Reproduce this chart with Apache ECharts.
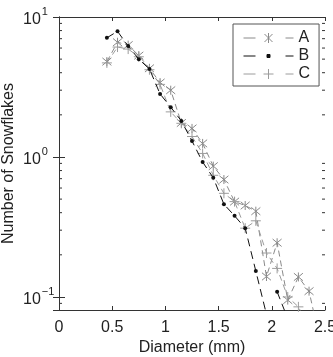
<!DOCTYPE html>
<html>
<head>
<meta charset="UTF-8">
<title>snowflakes</title>
<style>
  html, body { margin: 0; padding: 0; background: #fff; }
  #chart { width: 333px; height: 357px; }
</style>
<script src="https://cdn.jsdelivr.net/npm/echarts@6/dist/echarts.min.js"></script>
</head>
<body>
<div id="chart"></div>
<script>
// diameters (mm), one bin every 0.1 mm
var diam = [0.45, 0.55, 0.65, 0.75, 0.85, 0.95, 1.05, 1.15, 1.25, 1.35, 1.45,
            1.55, 1.65, 1.75, 1.85, 1.95, 2.05, 2.15, 2.25, 2.35, 2.45];
// counts (null = no point)
var valsA = [4.8, 6.6, 6.3, 5.3, 4.3, 3.4, 3.0, 1.75, 1.6, 1.25, 0.86,
             0.69, 0.48, 0.45, 0.41, 0.14, 0.244, 0.095, 0.139, 0.11, 0.05];
var valsB = [7.1, 7.9, 6.2, 5.0, 4.25, 2.82, 2.27, 1.81, 1.30, 0.92, 0.71,
             0.46, 0.38, 0.31, 0.153, 0.075, null, null, null, null, null];
var valsB2 = [null, null, null, null, null, null, null, null, null, null, null,
              null, null, null, null, null, 0.109, 0.07, null, null, null];
var valsC = [4.7, 6.1, 5.9, 5.2, 4.2, 3.3, 2.1, 1.74, 1.4, 1.06, 0.74,
             0.55, 0.48, 0.31, 0.35, 0.206, 0.16, 0.1, 0.085, 0.06, null];
var seriesNames = ['A', 'B', 'C'];
var xTicks = [0, 0.5, 1, 1.5, 2, 2.5];
var yMin = 0.0807, yMax = 10;
// minor log ticks 2..9 per decade
var minorTicks = [0.09, 0.2, 0.3, 0.4, 0.5, 0.6, 0.7, 0.8, 0.9, 2, 3, 4, 5, 6, 7, 8, 9];

function clean(vals) {
  return diam.map(function (d, i) { return [d, vals[i]]; })
    .filter(function (p) { return p[1] != null; });
}
// B has a gap: both runs with a null between them
var dataB = clean(valsB).concat([[2.0, null]]).concat(clean(valsB2));

var FONT = 'Liberation Sans';
var GRAY_A = '#8a8a8a', GRAY_C = '#9c9c9c', DARK = '#111';
var asterisk = 'path://M0,0L10,10M10,0L0,10M5,-1L5,11';
var plus = 'path://M5,0L5,10M0,5L10,5';
// legend samples: dash, marker, dash (box 50x14)
var legBox = 'M0,0M50,14M0,7L12,7M42,7L50,7';
var legIcons = {
  A: 'path://' + legBox + 'M21,3L29,11M29,3L21,11M25,2L25,12',
  B: 'path://' + legBox + 'M23.5,5.5L26.5,5.5L26.5,8.5L23.5,8.5Z',
  C: 'path://' + legBox + 'M25,2L25,12M20,7L30,7'
};
var legColors = { A: GRAY_A, B: DARK, C: GRAY_C };

var myChart = echarts.init(document.getElementById('chart'));

var axisLineStyle = { color: '#333', width: 1 };

var option = {
  animation: false,
  backgroundColor: '#fff',
  textStyle: { fontFamily: FONT },
  grid: { left: 59, right: 8, top: 17, bottom: 47, outerBoundsMode: 'none', containLabel: false },
  legend: {
    data: seriesNames.map(function (n) {
      return {
        name: n,
        icon: legIcons[n],
        itemStyle: {
          color: n === 'B' ? DARK : 'rgba(0,0,0,0)',
          borderColor: legColors[n], borderWidth: 1
        }
      };
    }),
    orient: 'vertical',
    left: 233,
    top: 24,
    padding: [6, 9, 4, 10],
    itemWidth: 50,
    itemHeight: 14,
    itemGap: 2,
    borderColor: '#555',
    borderWidth: 1,
    backgroundColor: '#fff',
    textStyle: { fontFamily: FONT, fontSize: 16, color: '#222' }
  },
  xAxis: [{
    type: 'value',
    min: 0, max: 2.5, interval: 0.5,
    name: 'Diameter (mm)',
    nameLocation: 'middle',
    nameGap: 30,
    nameMoveOverlap: false,
    nameTextStyle: { fontFamily: FONT, fontSize: 16, color: '#222' },
    axisLine: { show: true, lineStyle: axisLineStyle },
    axisTick: { show: true, inside: true, length: 4, lineStyle: axisLineStyle },
    axisLabel: {
      fontFamily: FONT, fontSize: 16, color: '#222', margin: 10,
      formatter: function (v) { return xTicks.indexOf(v) >= 0 ? String(v) : ''; }
    },
    splitLine: { show: false }
  }, {
    type: 'value', position: 'top',
    min: 0, max: 2.5, interval: 0.5,
    axisLine: { show: true, lineStyle: axisLineStyle },
    axisTick: { show: true, inside: true, length: 4, lineStyle: axisLineStyle },
    axisLabel: { show: false },
    splitLine: { show: false }
  }],
  yAxis: [{
    type: 'log', logBase: 10,
    min: yMin, max: yMax,
    name: 'Number of Snowflakes',
    nameLocation: 'middle',
    nameRotate: 90,
    nameGap: 42,
    nameMoveOverlap: false,
    nameTextStyle: { fontFamily: FONT, fontSize: 16, color: '#222' },
    axisLine: { show: true, lineStyle: axisLineStyle },
    axisTick: { show: true, inside: true, length: 6, lineStyle: axisLineStyle },
    axisLabel: {
      align: 'left', margin: 36, color: '#222',
      formatter: function (v) {
        var l = Math.log10(v), e = Math.round(l);
        if (Math.abs(l - e) > 1e-6) return '';
        return '{b|10}{s|' + (e < 0 ? '\u2212' + (-e) : e) + '}';
      },
      rich: {
        b: { fontFamily: FONT, fontSize: 16, color: '#222', verticalAlign: 'bottom' },
        s: { fontFamily: FONT, fontSize: 11, color: '#222', verticalAlign: 'bottom', padding: [0, 0, 10, 1] }
      }
    },
    splitLine: { show: false }
  }, {
    type: 'log', logBase: 10, position: 'right',
    min: yMin, max: yMax,
    axisLine: { show: true, lineStyle: axisLineStyle },
    axisTick: { show: true, inside: true, length: 6, lineStyle: axisLineStyle },
    axisLabel: { show: false },
    splitLine: { show: false }
  }],
  series: [
    {
      name: 'A', type: 'line', data: clean(valsA),
      symbol: asterisk, symbolSize: 9,
      lineStyle: { color: GRAY_A, width: 1, type: [6, 4] },
      itemStyle: { color: 'rgba(0,0,0,0)', borderColor: GRAY_A, borderWidth: 1 },
      clip: true, z: 3
    },
    {
      name: 'B', type: 'line', data: dataB,
      symbol: 'circle', symbolSize: 4,
      connectNulls: false,
      lineStyle: { color: DARK, width: 1, type: [8, 5] },
      itemStyle: { color: DARK },
      clip: true, z: 4
    },
    {
      name: 'C', type: 'line', data: clean(valsC),
      symbol: plus, symbolSize: 10,
      lineStyle: { color: GRAY_C, width: 1, type: [6, 4] },
      itemStyle: { color: 'rgba(0,0,0,0)', borderColor: GRAY_C, borderWidth: 1 },
      clip: true, z: 3
    },
    {
      // minor ticks of the log axes, left and right frame
      type: 'custom', silent: true, z: 5,
      data: minorTicks.map(function (v) { return [0, v]; }),
      renderItem: function (params, api) {
        var l = api.coord([0, api.value(1)]);
        var r = api.coord([2.5, api.value(1)]);
        var st = { stroke: '#333', lineWidth: 1 };
        return {
          type: 'group',
          children: [
            { type: 'line', shape: { x1: l[0], y1: l[1], x2: l[0] + 3, y2: l[1] }, style: st },
            { type: 'line', shape: { x1: r[0], y1: r[1], x2: r[0] - 3, y2: r[1] }, style: st }
          ]
        };
      }
    }
  ]
};
myChart.setOption(option);
</script>
</body>
</html>
